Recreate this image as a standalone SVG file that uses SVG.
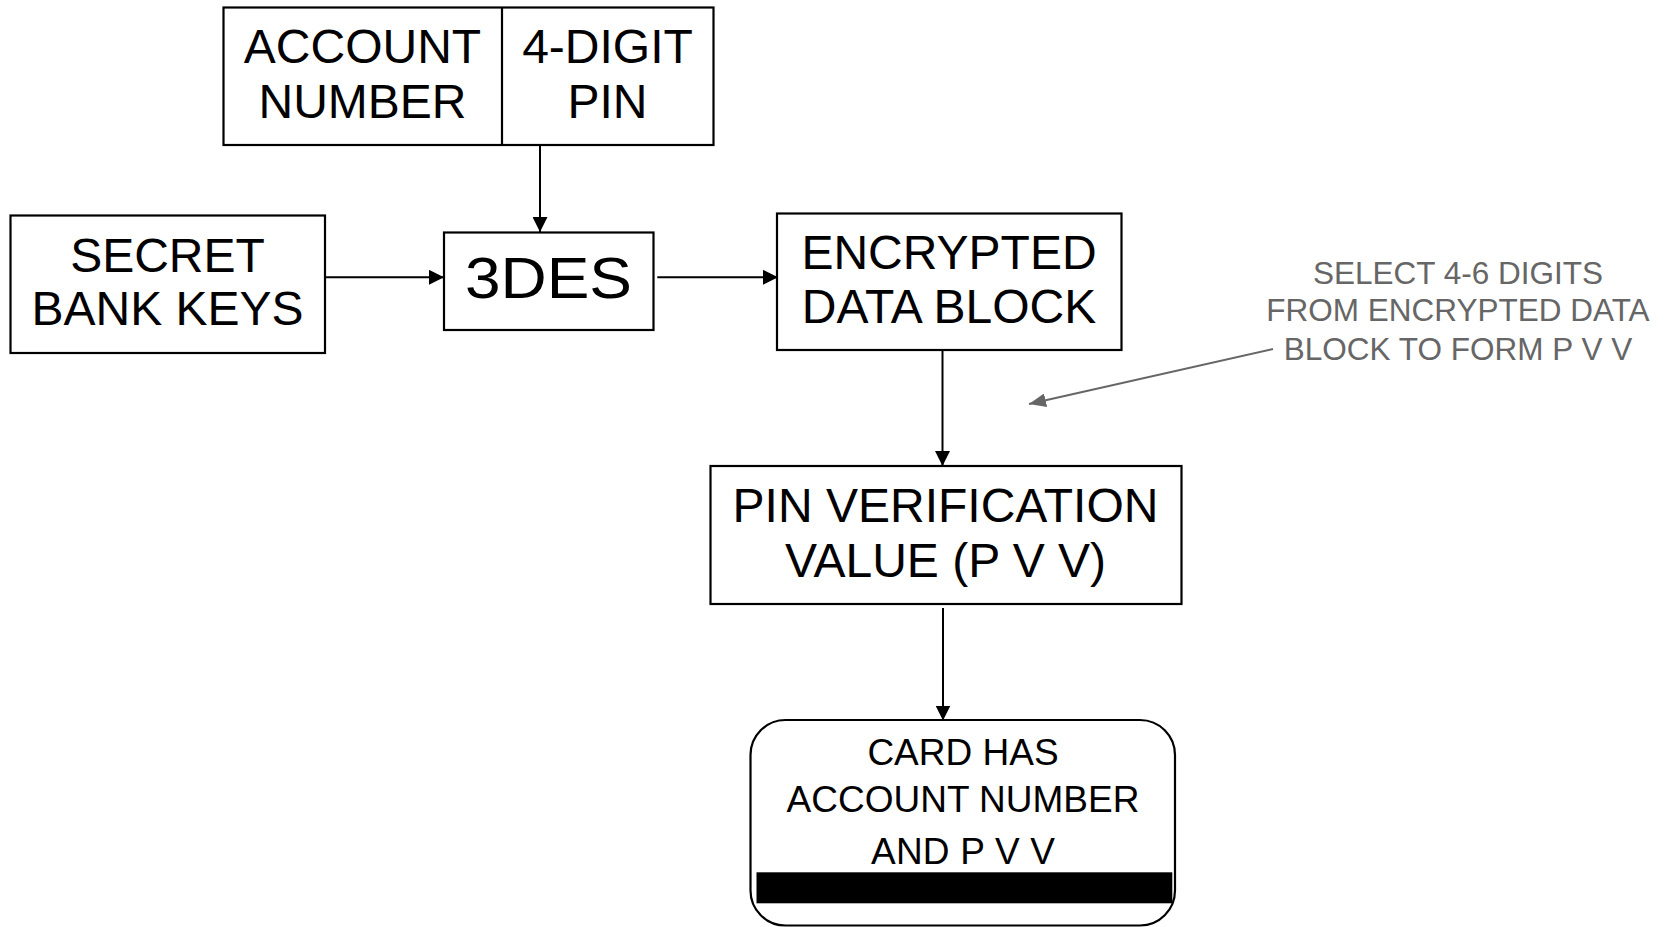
<svg xmlns="http://www.w3.org/2000/svg" width="1671" height="927" viewBox="0 0 1671 927">
<style>
.box{fill:#fff;stroke:#000;stroke-width:2.2}
.t{font-family:"Liberation Sans",Arial,Helvetica,sans-serif;fill:#000;text-anchor:middle}
.t48{font-size:48px}
.t37{font-size:37px}
.note{font-family:"Liberation Sans",Arial,Helvetica,sans-serif;font-size:31.5px;fill:#666;text-anchor:middle}
.c{fill:none;stroke:#000;stroke-width:2}
.cg{fill:none;stroke:#666;stroke-width:2}
</style>
<defs>
<marker id="ah" markerUnits="userSpaceOnUse" markerWidth="15" markerHeight="15" refX="15" refY="7.5" orient="auto">
<path d="M0,0 L15,7.5 L0,15 z" fill="#000"/>
</marker>
<marker id="ahg" markerUnits="userSpaceOnUse" markerWidth="17" markerHeight="14" refX="17" refY="7" orient="auto">
<path d="M0,0 L17,7 L0,14 z" fill="#666"/>
</marker>
</defs>
<rect width="1671" height="927" fill="#fff"/>
<g id="inputs">
<rect class="box" x="223.5" y="7.5" width="490" height="137.5"/>
<line x1="502" y1="7.5" x2="502" y2="145" stroke="#000" stroke-width="2.2"/>
<text class="t t48" x="362.5" y="63">ACCOUNT</text>
<text class="t t48" x="362.5" y="118">NUMBER</text>
<text class="t t48" x="607.5" y="63">4-DIGIT</text>
<text class="t t48" x="607.5" y="118">PIN</text>
</g>
<g id="secret">
<rect class="box" x="10.5" y="215.5" width="314.5" height="137.5"/>
<text class="t t48" x="167.5" y="271.5">SECRET</text>
<text class="t t48" x="167.5" y="325">BANK KEYS</text>
</g>
<g id="des">
<rect class="box" x="444" y="232.5" width="209.5" height="97.5"/>
<text class="t" x="548.5" y="297.5" font-size="58" textLength="167" lengthAdjust="spacingAndGlyphs">3DES</text>
</g>
<g id="encrypted">
<rect class="box" x="777" y="213.5" width="344.5" height="136.5"/>
<text class="t t48" x="949" y="269">ENCRYPTED</text>
<text class="t t48" x="949" y="323.3">DATA BLOCK</text>
</g>
<g id="pvv">
<rect class="box" x="710.5" y="466" width="471" height="138"/>
<text class="t t48" x="945.5" y="521.7">PIN VERIFICATION</text>
<text class="t t48" x="945.5" y="576.7">VALUE (P V V)</text>
</g>
<g id="card">
<rect class="box" x="750.5" y="720" width="424.5" height="205.5" rx="35" ry="35"/>
<rect x="756.5" y="872.3" width="415.8" height="31" fill="#000"/>
<text class="t t37" x="963" y="765">CARD HAS</text>
<text class="t t37" x="963" y="811.7">ACCOUNT NUMBER</text>
<text class="t t37" x="963" y="864" textLength="184">AND P V V</text>
</g>
<g id="note">
<text class="note" x="1458" y="283.5">SELECT 4-6 DIGITS</text>
<text class="note" x="1458" y="321">FROM ENCRYPTED DATA</text>
<text class="note" x="1458" y="360">BLOCK TO FORM P V V</text>
</g>
<g id="connectors">
<line class="c" x1="540" y1="145" x2="540" y2="232" marker-end="url(#ah)"/>
<line class="c" x1="325" y1="277.3" x2="444" y2="277.3" marker-end="url(#ah)"/>
<line class="c" x1="657.3" y1="277.3" x2="778" y2="277.3" marker-end="url(#ah)"/>
<line class="c" x1="942.5" y1="350" x2="942.5" y2="466" marker-end="url(#ah)"/>
<line class="c" x1="943" y1="608" x2="943" y2="720.5" marker-end="url(#ah)"/>
<line class="cg" x1="1273" y1="349" x2="1029" y2="404" marker-end="url(#ahg)"/>
</g>
</svg>
